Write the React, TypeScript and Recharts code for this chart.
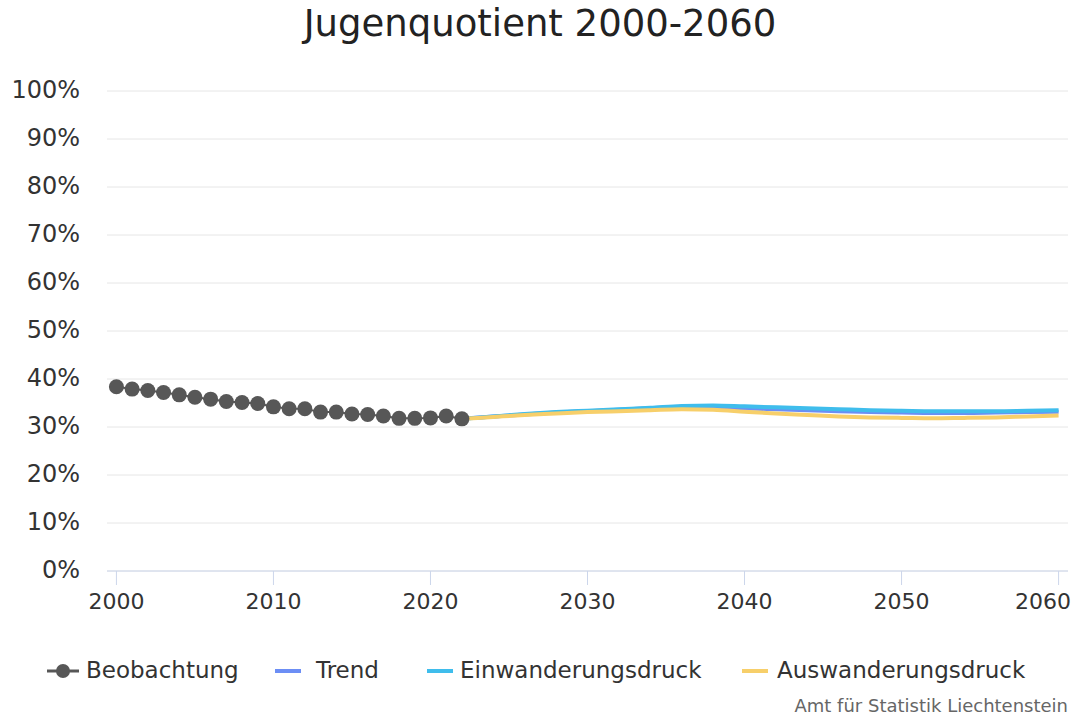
import React from "react"
import { LineChart, Line, XAxis, YAxis, CartesianGrid } from "recharts"

// Beobachtung 2000-2022 (in %)
const obsYears = [2000, 2001, 2002, 2003, 2004, 2005, 2006, 2007, 2008, 2009, 2010, 2011, 2012, 2013, 2014, 2015, 2016, 2017, 2018, 2019, 2020, 2021, 2022]
const obsValues = [38.4, 37.9, 37.6, 37.2, 36.7, 36.2, 35.8, 35.3, 35.1, 34.9, 34.2, 33.8, 33.8, 33.1, 33.1, 32.7, 32.6, 32.3, 31.8, 31.8, 31.9, 32.3, 31.7]

// Szenarien 2022-2060 (in %)
const projYears = [2022, 2024, 2026, 2028, 2030, 2032, 2034, 2036, 2038, 2040, 2042, 2044, 2046, 2048, 2050, 2052, 2054, 2056, 2058, 2060]
const trend = [31.7, 32.2, 32.6, 33.0, 33.3, 33.6, 33.9, 34.2, 34.2, 33.9, 33.7, 33.5, 33.3, 33.1, 33.0, 32.9, 32.9, 33.0, 33.1, 33.2]
const einwanderung = [31.7, 32.2, 32.7, 33.1, 33.4, 33.7, 34.0, 34.4, 34.5, 34.3, 34.1, 33.9, 33.7, 33.5, 33.4, 33.3, 33.3, 33.3, 33.4, 33.5]
const auswanderung = [31.7, 32.1, 32.5, 32.8, 33.1, 33.3, 33.5, 33.7, 33.6, 33.2, 32.8, 32.5, 32.2, 32.0, 31.9, 31.8, 31.9, 32.0, 32.2, 32.4]

const xTicks = [2000, 2010, 2020, 2030, 2040, 2050, 2060]
const yTicks = [0, 10, 20, 30, 40, 50, 60, 70, 80, 90, 100]

const COLORS = {
  obs: "#575757",
  trend: "#6c8ef5",
  ein: "#3fbdec",
  aus: "#f7cf6a",
}

const FONT = "'DejaVu Sans', sans-serif"

const allYears = Array.from(new Set([...obsYears, ...projYears])).sort((a, b) => a - b)
const data = allYears.map((year) => {
  const oi = obsYears.indexOf(year)
  const pi = projYears.indexOf(year)
  return {
    year,
    obs: oi >= 0 ? obsValues[oi] : undefined,
    trend: pi >= 0 ? trend[pi] : undefined,
    ein: pi >= 0 ? einwanderung[pi] : undefined,
    aus: pi >= 0 ? auswanderung[pi] : undefined,
  }
})

const legendItems = [
  { label: "Beobachtung", color: COLORS.obs, dot: true, left: 47, textLeft: 86 },
  { label: "Trend", color: COLORS.trend, dot: false, left: 275, textLeft: 316 },
  { label: "Einwanderungsdruck", color: COLORS.ein, dot: false, left: 427, textLeft: 460 },
  { label: "Auswanderungsdruck", color: COLORS.aus, dot: false, left: 742, textLeft: 777 },
]

// last label is pulled inside the chart, like the original
function XTick(props: any) {
  const { x, y, payload } = props
  const last = payload.value === 2060
  return (
    <text
      x={last ? 1071 : x}
      y={y}
      dy={20}
      textAnchor={last ? "end" : "middle"}
      fontSize={22}
      fill="#333"
      fontFamily={FONT}
    >
      {payload.value}
    </text>
  )
}

export default function App() {
  return (
    <div style={{ position: "absolute", left: 0, top: 0, width: 1080, height: 715, background: "#fff", fontFamily: FONT }}>
      <div style={{ position: "absolute", top: 2, width: 1080, textAlign: "center", fontSize: 37, color: "#222" }}>
        Jugenquotient 2000-2060
      </div>

      <div style={{ position: "absolute", top: 0, left: 0 }}>
        <LineChart width={1080} height={630} data={data} margin={{ top: 91, right: 12, bottom: 10, left: 0 }}>
          <CartesianGrid vertical={false} stroke="#e6e6e6" />
          <XAxis
            dataKey="year"
            type="number"
            domain={[1999.4, 2060.6]}
            ticks={xTicks}
            height={49}
            axisLine={{ stroke: "#ccd6eb" }}
            tickLine={{ stroke: "#ccd6eb" }}
            tickSize={14}
            tickMargin={4}
            tick={<XTick />}
          />
          <YAxis
            type="number"
            domain={[0, 100]}
            ticks={yTicks}
            width={107}
            axisLine={false}
            tickLine={false}
            tickMargin={21}
            tickFormatter={(v) => `${v}%`}
            tick={{ fontSize: 24, fill: "#333", fontFamily: FONT, dy: -2 }}
          />
          <Line
            dataKey="obs"
            stroke={COLORS.obs}
            strokeWidth={2}
            dot={{ r: 7.5, fill: COLORS.obs, stroke: COLORS.obs, strokeWidth: 0 }}
            connectNulls={false}
            isAnimationActive={false}
          />
          <Line dataKey="trend" type="monotone" stroke={COLORS.trend} strokeWidth={4} dot={false} connectNulls isAnimationActive={false} />
          <Line dataKey="ein" type="monotone" stroke={COLORS.ein} strokeWidth={4} dot={false} connectNulls isAnimationActive={false} />
          <Line dataKey="aus" type="monotone" stroke={COLORS.aus} strokeWidth={4} dot={false} connectNulls isAnimationActive={false} />
        </LineChart>
      </div>

      {legendItems.map((item) => (
        <React.Fragment key={item.label}>
          <svg width={34} height={16} style={{ position: "absolute", left: item.left, top: 663 }}>
            <line x1={0} x2={item.dot ? 32 : 26} y1={8} y2={8} stroke={item.color} strokeWidth={item.dot ? 3 : 4} />
            {item.dot && <circle cx={16} cy={8} r={7} fill={item.color} />}
          </svg>
          <div style={{ position: "absolute", left: item.textLeft, top: 656, fontSize: 23, lineHeight: "28px", color: "#333" }}>
            {item.label}
          </div>
        </React.Fragment>
      ))}

      <div style={{ position: "absolute", right: 12, top: 695, fontSize: 18, lineHeight: "22px", color: "#666" }}>
        Amt für Statistik Liechtenstein
      </div>
    </div>
  )
}
